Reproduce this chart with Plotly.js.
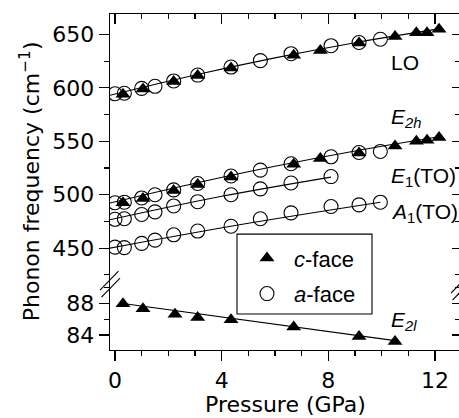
<!DOCTYPE html>
<html>
<head>
<meta charset="utf-8">
<script src="https://cdn.plot.ly/plotly-3.0.1.min.js"></script>
<style>
html,body{margin:0;padding:0;overflow:hidden;background:#fff;}
#chart{width:462px;height:418px;}
</style>
</head>
<body>
<div id="chart"></div>
<script>
// ---- data (pressure in GPa, frequency in cm^-1) ----
const cPressure = [0.3, 1.05, 2.2, 3.1, 4.35, 6.7, 7.7, 9.15, 10.5, 11.3, 11.7, 12.15];
const cLO       = [594, 599, 606, 611.5, 618.5, 630.5, 635, 642, 648, 651.5, 651.5, 655];
const cE2h      = [492.5, 496.5, 504, 509.5, 516.5, 528.5, 534, 539, 545.5, 550, 551, 553.5];
const cE2lPressure = [0.3, 1.05, 2.25, 3.1, 4.35, 6.7, 9.15, 10.5];
const cE2l      = [87.9, 87.3, 86.6, 86.2, 85.9, 85.0, 83.8, 83.2];

const aPressure = [0.0, 0.35, 1.0, 1.5, 2.2, 3.1, 4.35, 5.45, 6.6, 8.1, 9.15, 9.95];
const aLO       = [594.5, 595, 599.5, 601.5, 606.5, 612, 619.5, 625.5, 632, 639.5, 642.5, 645.5];
const aE2h      = [492.5, 493, 497, 500, 504.5, 510.5, 517.5, 523, 529, 535.5, 539.5, 540.5];
const aE1TOPressure = [0.0, 0.35, 1.0, 1.5, 2.2, 3.1, 4.35, 5.45, 6.6, 8.1];
const aE1TO     = [477, 477.5, 481.5, 484, 489.5, 493.5, 500, 505.5, 511, 517];
const aA1TO     = [451, 450.5, 454.5, 457.5, 462.5, 466, 470.5, 477.5, 483, 489, 490.5, 493];

// fit curves
const fitLOP   = [-0.2, 3, 6, 9, 12.2];
const fitLO    = [593.0, 612.1, 628.1, 642.3, 655.5];
const fitE2hP  = [-0.2, 3, 6, 9, 12.2];
const fitE2h   = [492.2, 510.8, 526.7, 541.0, 554.5];
const fitE1TOP = [-0.2, 4, 8.1];
const fitE1TO  = [476.5, 498.5, 516.5];
const fitA1TOP = [-0.2, 5, 9.95];
const fitA1TO  = [450, 473.3, 493];
const fitE2lP  = [0.3, 10.5];
const fitE2l   = [87.95, 83.3];

const modeLabels = ["LO", "<i>E</i><sub><i>2h</i></sub>", "<i>E</i><sub>1</sub>(TO)", "<i>A</i><sub>1</sub>(TO)", "<i>E</i><sub><i>2l</i></sub>"];
const modeLabelY = [62, 118, 177, 212.5, 321];   // pixel rows of labels
const legendNames = ["<i>c</i>-face", "<i>a</i>-face"];

// ---- geometry helpers ----
const L = 110, R = 460, T = 13.5, B = 350;
const px = x => (x - L) / (R - L);
const py = y => (B - y) / (B - T);
const splitY = 282;
const lowDomTop = py(splitY);

const lineStyle = {color: 'black', width: 1.1};
function fit(x, y, ax) {
  return {x: x, y: y, xaxis: 'x', yaxis: ax, mode: 'lines', line: Object.assign({shape: 'spline'}, lineStyle),
          showlegend: false, hoverinfo: 'skip'};
}
const triMarker = {symbol: 'triangle-up', size: 13, color: 'black', line: {width: 0}};
const circMarker = {symbol: 'circle-open', size: 14, color: 'black', line: {width: 1.1, color: 'black'}};
function pts(x, y, ax, m, name, show, group) {
  const t = {x: x, y: y, xaxis: 'x', yaxis: ax, mode: 'markers', marker: m, name: name, showlegend: show};
  if (group) t.legendgroup = group;
  return t;
}

const traces = [
  fit(fitLOP, fitLO, 'y2'), fit(fitE2hP, fitE2h, 'y2'), fit(fitE1TOP, fitE1TO, 'y2'),
  fit(fitA1TOP, fitA1TO, 'y2'), fit(fitE2lP, fitE2l, 'y'),
  pts(aPressure, aLO, 'y2', circMarker, legendNames[1], false),
  pts(aPressure, aE2h, 'y2', circMarker, legendNames[1], false),
  pts(aE1TOPressure, aE1TO, 'y2', circMarker, legendNames[1], false),
  pts(aPressure, aA1TO, 'y2', circMarker, legendNames[1], false),
  pts(cPressure, cLO, 'y2', triMarker, legendNames[0], true, 'c'),
  pts(cPressure, cE2h, 'y2', triMarker, legendNames[0], false),
  pts(cE2lPressure, cE2l, 'y', triMarker, legendNames[0], false),
  // invisible carriers for frame axes
  {x: [], y: [], xaxis: 'x2', yaxis: 'y2', mode: 'markers', showlegend: false},
  {x: [], y: [], xaxis: 'x', yaxis: 'y3', mode: 'markers', showlegend: false},
  {x: [], y: [], xaxis: 'x', yaxis: 'y4', mode: 'markers', showlegend: false}
];
// legend entry for a-face (second row)
traces.push({x: [null], y: [null], xaxis: 'x', yaxis: 'y2', mode: 'markers', marker: circMarker,
             name: legendNames[1], showlegend: true, legendgroup: 'a'});

const tickFont = {family: 'DejaVu Sans', size: 22, color: 'black'};
const xRange = [(L - 115) / 26.67, (R - 115) / 26.67];
const upRange = [450 - (splitY - 248) / 1.07, 650 + (34 - T) / 1.07];
const lowRange = [84 - (B - 335) / 8, 84 + (335 - splitY) / 8];
const thin = {color: 'black', width: 1.1};

const layout = {
  width: 462, height: 418,
  margin: {l: L, r: 462 - R, t: T, b: 418 - B},
  paper_bgcolor: 'white', plot_bgcolor: 'white',
  showlegend: true,
  legend: {x: px(240), y: py(237), xanchor: 'left', yanchor: 'top', bgcolor: 'rgba(0,0,0,0)',
           borderwidth: 0, itemwidth: 44, traceorder: 'grouped', tracegroupgap: 4,
           font: {family: 'Liberation Sans', size: 22, color: 'black'}},
  xaxis: {range: xRange, anchor: 'y', side: 'bottom', showgrid: false, zeroline: false,
          showline: true, linecolor: 'black', linewidth: 1.3, ticks: 'outside', ticklen: 10,
          tickwidth: 1.1, tickcolor: 'black', dtick: 4, tick0: 0, tickfont: tickFont,
          minor: {dtick: 1, tick0: 0, ticks: 'outside', ticklen: 5, tickwidth: 1.1, tickcolor: 'black', showgrid: false}},
  xaxis2: {range: xRange, overlaying: 'x', anchor: 'y2', side: 'top', showgrid: false, zeroline: false,
          showline: true, linecolor: 'black', linewidth: 1.3, ticks: 'inside', ticklen: 10,
          tickwidth: 1.1, tickcolor: 'black', dtick: 4, tick0: 0, showticklabels: false,
          minor: {dtick: 1, tick0: 0, ticks: 'inside', ticklen: 5, tickwidth: 1.1, tickcolor: 'black', showgrid: false}},
  yaxis: {domain: [0, lowDomTop], range: lowRange, anchor: 'x', showgrid: false, zeroline: false,
          showline: true, linecolor: 'black', linewidth: 1.3, ticks: 'outside', ticklen: 10,
          tickwidth: 1.1, tickcolor: 'black', dtick: 4, tick0: 0, tickfont: tickFont,
          minor: {dtick: 2, tick0: 0, ticks: 'outside', ticklen: 5, tickwidth: 1.1, tickcolor: 'black', showgrid: false}},
  yaxis2: {domain: [lowDomTop, 1], range: upRange, anchor: 'x', showgrid: false, zeroline: false,
          showline: true, linecolor: 'black', linewidth: 1.3, ticks: 'outside', ticklen: 10,
          tickwidth: 1.1, tickcolor: 'black', dtick: 50, tick0: 0, tickfont: tickFont,
          minor: {dtick: 25, tick0: 0, ticks: 'outside', ticklen: 5, tickwidth: 1.1, tickcolor: 'black', showgrid: false}},
  yaxis3: {domain: [lowDomTop, 1], range: upRange, overlaying: 'y2', anchor: 'x', side: 'right', showgrid: false,
          zeroline: false, showline: false, ticks: 'inside', ticklen: 8, tickwidth: 1.1, tickcolor: 'black',
          dtick: 50, tick0: 0, showticklabels: false,
          minor: {dtick: 25, tick0: 0, ticks: 'inside', ticklen: 5, tickwidth: 1.1, tickcolor: 'black', showgrid: false}},
  yaxis4: {domain: [0, lowDomTop], range: lowRange, overlaying: 'y', anchor: 'x', side: 'right', showgrid: false,
          zeroline: false, showline: false, ticks: 'inside', ticklen: 8, tickwidth: 1.1, tickcolor: 'black',
          dtick: 4, tick0: 0, showticklabels: false,
          minor: {dtick: 2, tick0: 0, ticks: 'inside', ticklen: 5, tickwidth: 1.1, tickcolor: 'black', showgrid: false}},
  shapes: [
    {type: 'rect', xref: 'paper', yref: 'paper', x0: px(237), y0: py(314), x1: px(372), y1: py(234), line: thin, fillcolor: 'rgba(0,0,0,0)'},
    {type: 'line', xref: 'paper', yref: 'paper', x0: px(100), y0: py(290), x1: px(118.5), y1: py(271), line: thin},
    {type: 'line', xref: 'paper', yref: 'paper', x0: px(101.5), y0: py(297), x1: px(120), y1: py(278), line: thin},
    {type: 'line', xref: 'paper', yref: 'paper', x0: px(451), y0: py(293), x1: px(469.5), y1: py(274), line: thin},
    {type: 'line', xref: 'paper', yref: 'paper', x0: px(452.5), y0: py(300), x1: px(471), y1: py(281), line: thin}
  ],
  annotations: [
    {text: 'Phonon frequency (cm<sup>−1</sup>)', xref: 'paper', yref: 'paper', x: px(30), y: py(181),
     textangle: -90, showarrow: false, xanchor: 'center', yanchor: 'middle', font: tickFont},
    {text: 'Pressure (GPa)', xref: 'paper', yref: 'paper', x: px(285), y: py(405),
     showarrow: false, xanchor: 'center', yanchor: 'middle', font: tickFont}
  ]
};
modeLabels.forEach((t, i) => {
  layout.annotations.push({text: t, xref: 'paper', yref: 'paper', x: px(389), y: py(modeLabelY[i]),
    xanchor: 'left', yanchor: 'middle', showarrow: false,
    font: {family: 'Liberation Sans', size: 21, color: 'black'}});
});

Plotly.newPlot('chart', traces, layout, {displayModeBar: false, staticPlot: true});
</script>
</body>
</html>
